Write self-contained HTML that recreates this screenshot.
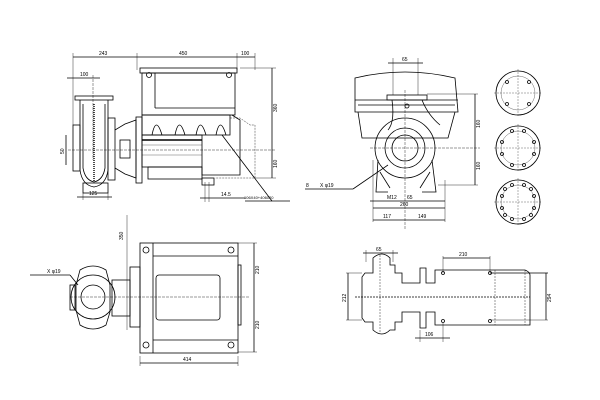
<!DOCTYPE html>
<html><head><meta charset="utf-8"><style>
html,body{margin:0;padding:0;background:#fff;width:600px;height:400px;overflow:hidden}
svg{display:block}
text{font-family:"Liberation Sans",sans-serif;font-size:5px;fill:#000}
</style></head><body>
<svg width="600" height="400" viewBox="0 0 600 400" xmlns="http://www.w3.org/2000/svg">
<g fill="none" stroke="#000" stroke-width="0.8">
<line x1="73" y1="57" x2="255" y2="57"/>
<line x1="73" y1="53" x2="73" y2="125" stroke-width="0.4"/>
<line x1="137" y1="53" x2="137" y2="70" stroke-width="0.4"/>
<line x1="237" y1="53" x2="237" y2="70" stroke-width="0.4"/>
<line x1="255" y1="53" x2="255" y2="70" stroke-width="0.4"/>
<line x1="67" y1="78" x2="100" y2="78"/>
<line x1="93" y1="75" x2="93" y2="160" stroke-width="0.4" stroke-dasharray="3,1"/>
<rect x="75" y="96" width="38" height="4"/>
<path d="M80 100 L80 170 Q82 185 94 187 Q106 185 108 170 L108 100"/>
<path d="M83 104 L83 168 Q85 180 94 182 Q103 180 105 168 L105 104"/>
<line x1="94" y1="104" x2="94" y2="182" stroke-dasharray="1,1" stroke-width="1.4"/>
<rect x="73" y="125" width="7" height="46"/>
<rect x="108" y="118" width="7" height="62"/>
<rect x="83" y="183" width="25" height="10"/>
<line x1="83" y1="193" x2="83" y2="200" stroke-width="0.4"/>
<line x1="108" y1="193" x2="108" y2="200" stroke-width="0.4"/>
<line x1="77" y1="197" x2="112" y2="197"/>
<path d="M115 130 L125 124 L136 120 L136 178 L125 174 L115 168"/>
<rect x="120" y="140" width="10" height="18"/>
<rect x="136" y="117" width="6" height="66"/>
<rect x="140" y="68" width="97" height="5"/>
<rect x="142" y="73" width="93" height="42"/>
<line x1="155" y1="73" x2="155" y2="108"/>
<line x1="155" y1="108" x2="235" y2="108"/>
<circle cx="149" cy="75" r="2.5"/><circle cx="229" cy="75" r="2.5"/>
<rect x="142" y="115" width="88" height="20"/>
<path d="M152 135 Q156 115 162 135 M175 135 Q179 115 185 135 M196 135 Q200 115 206 135 M216 135 Q220 115 226 135"/>
<rect x="142" y="135" width="60" height="32"/>
<line x1="142" y1="140" x2="202" y2="140" stroke-width="1.5"/>
<line x1="142" y1="145" x2="202" y2="145" stroke-width="0.3"/>
<line x1="142" y1="155" x2="202" y2="155" stroke-width="0.3"/>
<path d="M202 167 L202 175 L240 175 L240 120 L232 115"/>
<path d="M230 118 L240 118 L250 125 L255 125 L255 178 L215 178" stroke-dasharray="2,1" stroke-width="0.4"/>
<rect x="148" y="167" width="54" height="12"/>
<rect x="202" y="178" width="12" height="7"/>
<line x1="68" y1="150" x2="275" y2="150" stroke-dasharray="3,1" stroke-width="0.4"/>
<line x1="66" y1="135" x2="66" y2="165"/>
<line x1="272" y1="68" x2="272" y2="178"/>
<line x1="240" y1="68" x2="276" y2="68" stroke-width="0.4"/>
<line x1="255" y1="178" x2="276" y2="178" stroke-width="0.4"/>
<line x1="205" y1="182" x2="205" y2="202" stroke-width="0.4"/>
<line x1="209" y1="182" x2="209" y2="202" stroke-width="0.4"/>
<line x1="200" y1="198" x2="245" y2="198"/>
<line x1="222" y1="135" x2="272" y2="201"/>
<line x1="245" y1="201" x2="290" y2="201"/>
<path d="M355 112 L355 78 Q405 66 455 78 L458 112 Z"/>
<line x1="355" y1="100" x2="458" y2="100"/>
<line x1="358" y1="105" x2="455" y2="105"/>
<path d="M358 112 L362 138 L448 138 L455 112"/>
<rect x="387" y="95" width="40" height="5"/>
<path d="M392 100 Q395 122 388 130 M422 100 Q428 115 440 125"/>
<circle cx="407" cy="106" r="2"/>
<circle cx="405" cy="148" r="30"/>
<circle cx="405" cy="148" r="20"/>
<circle cx="405" cy="148" r="13"/>
<path d="M378 160 L376 192 L388 192 M432 160 L436 192 L422 192"/>
<line x1="380" y1="172" x2="390" y2="188"/><line x1="430" y1="172" x2="420" y2="188"/>
<line x1="405" y1="90" x2="405" y2="230" stroke-width="0.4" stroke-dasharray="3,1"/>
<line x1="370" y1="148" x2="480" y2="148" stroke-width="0.4" stroke-dasharray="3,1"/>
<line x1="393" y1="58" x2="393" y2="95" stroke-width="0.4"/>
<line x1="418" y1="58" x2="418" y2="95" stroke-width="0.4"/>
<line x1="388" y1="63" x2="423" y2="63"/>
<line x1="475" y1="94" x2="475" y2="185"/>
<line x1="427" y1="94" x2="478" y2="94" stroke-width="0.4"/>
<line x1="438" y1="185" x2="478" y2="185" stroke-width="0.4"/>
<line x1="373" y1="160" x2="373" y2="222" stroke-width="0.4"/>
<line x1="445" y1="180" x2="445" y2="222" stroke-width="0.4"/>
<line x1="370" y1="201" x2="445" y2="201"/>
<line x1="373" y1="208" x2="445" y2="208"/>
<line x1="373" y1="220" x2="445" y2="220"/>
<line x1="388" y1="165" x2="353" y2="189"/>
<line x1="305" y1="189" x2="353" y2="189"/>
<g>
<circle cx="518" cy="93" r="22"/><circle cx="518" cy="93" r="17" stroke-width="0.3"/>
<circle cx="518" cy="148" r="22"/><circle cx="518" cy="148" r="17" stroke-width="0.3"/>
<circle cx="518" cy="202" r="22"/><circle cx="518" cy="202" r="17" stroke-width="0.3"/>
<line x1="494" y1="93" x2="542" y2="93" stroke-dasharray="2,1" stroke-width="0.3"/>
<line x1="518" y1="69" x2="518" y2="117" stroke-dasharray="2,1" stroke-width="0.3"/>
<line x1="494" y1="148" x2="542" y2="148" stroke-dasharray="2,1" stroke-width="0.3"/>
<line x1="518" y1="124" x2="518" y2="172" stroke-dasharray="2,1" stroke-width="0.3"/>
<line x1="494" y1="202" x2="542" y2="202" stroke-dasharray="2,1" stroke-width="0.3"/>
<line x1="518" y1="178" x2="518" y2="226" stroke-dasharray="2,1" stroke-width="0.3"/>
<circle cx="507" cy="82" r="1.5"/><circle cx="529" cy="82" r="1.5"/><circle cx="507" cy="104" r="1.5"/><circle cx="529" cy="104" r="1.5"/>
<circle cx="512" cy="131" r="1.5"/><circle cx="524" cy="131" r="1.5"/><circle cx="512" cy="165" r="1.5"/><circle cx="524" cy="165" r="1.5"/><circle cx="502" cy="142" r="1.5"/><circle cx="502" cy="154" r="1.5"/><circle cx="534" cy="142" r="1.5"/><circle cx="534" cy="154" r="1.5"/>
<circle cx="512" cy="185" r="1.5"/><circle cx="524" cy="185" r="1.5"/><circle cx="512" cy="219" r="1.5"/><circle cx="524" cy="219" r="1.5"/><circle cx="502" cy="196" r="1.5"/><circle cx="502" cy="208" r="1.5"/><circle cx="534" cy="196" r="1.5"/><circle cx="534" cy="208" r="1.5"/><circle cx="505" cy="189" r="1.5"/><circle cx="531" cy="189" r="1.5"/><circle cx="505" cy="215" r="1.5"/><circle cx="531" cy="215" r="1.5"/>
</g>
<rect x="140" y="243" width="98" height="110"/>
<line x1="153" y1="243" x2="153" y2="353"/>
<line x1="153" y1="256" x2="238" y2="256"/>
<line x1="153" y1="340" x2="238" y2="340"/>
<rect x="156" y="275" width="64" height="45" rx="3"/>
<circle cx="146" cy="250" r="3"/><circle cx="231" cy="250" r="3"/><circle cx="146" cy="345" r="3"/><circle cx="231" cy="345" r="3"/>
<rect x="238" y="265" width="3" height="60"/>
<rect x="130" y="267" width="10" height="60"/>
<rect x="112" y="280" width="18" height="36"/>
<path d="M80 270 Q93 262 106 270 L110 285 L110 312 L106 325 Q93 333 80 325 L76 310 L76 285 Z"/>
<circle cx="93" cy="297" r="22"/>
<circle cx="93" cy="297" r="12"/>
<rect x="70" y="285" width="5" height="25"/>
<line x1="70" y1="297" x2="250" y2="297" stroke-dasharray="3,1" stroke-width="0.4"/>
<line x1="127" y1="215" x2="127" y2="330" stroke-width="0.4"/>
<line x1="254" y1="243" x2="254" y2="352"/>
<line x1="238" y1="243" x2="257" y2="243" stroke-width="0.4"/>
<line x1="238" y1="352" x2="257" y2="352" stroke-width="0.4"/>
<line x1="140" y1="356" x2="140" y2="366" stroke-width="0.4"/>
<line x1="238" y1="356" x2="238" y2="366" stroke-width="0.4"/>
<line x1="140" y1="363" x2="238" y2="363"/>
<line x1="30" y1="275" x2="70" y2="275"/>
<line x1="70" y1="275" x2="78" y2="285"/>
<path d="M373 258 Q382 250 390 258 L390 265 L395 265 L395 273 L402 273 L402 283 L420 283 L420 268 L426 268 L426 283 L435 283 L435 270 L525 270 Q530 272 530 275 L530 325 L435 325 L435 312 L426 312 L426 328 L420 328 L420 312 L402 312 L402 322 L395 322 L395 330 L390 330 Q382 338 373 330 L373 322 L365 322 L362 318 L362 277 L365 273 L373 273 Z"/>
<line x1="380" y1="255" x2="380" y2="333" stroke-dasharray="2,1" stroke-width="0.4"/>
<line x1="495" y1="270" x2="495" y2="325" stroke-dasharray="2,1" stroke-width="0.4"/>
<line x1="525" y1="270" x2="525" y2="325" stroke-dasharray="2,1" stroke-width="0.4"/>
<line x1="355" y1="297" x2="530" y2="297" stroke-dasharray="2,1" stroke-width="0.8"/>
<circle cx="443" cy="273" r="1.5"/><circle cx="490" cy="273" r="1.5"/><circle cx="443" cy="321" r="1.5"/><circle cx="490" cy="321" r="1.5"/>
<line x1="363" y1="253" x2="398" y2="253"/>
<line x1="366" y1="250" x2="366" y2="262" stroke-width="0.4"/>
<line x1="393" y1="250" x2="393" y2="262" stroke-width="0.4"/>
<line x1="443" y1="258" x2="490" y2="258"/>
<line x1="443" y1="256" x2="443" y2="273" stroke-width="0.4"/>
<line x1="490" y1="256" x2="490" y2="273" stroke-width="0.4"/>
<line x1="348" y1="273" x2="348" y2="320"/>
<line x1="346" y1="273" x2="362" y2="273" stroke-width="0.4"/>
<line x1="346" y1="320" x2="362" y2="320" stroke-width="0.4"/>
<line x1="546" y1="273" x2="546" y2="320"/>
<line x1="490" y1="273" x2="548" y2="273" stroke-width="0.7"/>
<line x1="490" y1="320" x2="548" y2="320" stroke-width="0.4"/>
<line x1="420" y1="330" x2="420" y2="342" stroke-width="0.4"/>
<line x1="443" y1="323" x2="443" y2="342" stroke-width="0.4"/>
<line x1="415" y1="338" x2="450" y2="338"/>
</g>
<text x="99" y="55">243</text>
<text x="179" y="55">450</text>
<text x="241" y="55">100</text>
<text x="80" y="76">100</text>
<text x="64" y="154" transform="rotate(-90 64 154)">50</text>
<text x="89" y="195">125</text>
<text x="277" y="112" transform="rotate(-90 277 112)">360</text>
<text x="277" y="168" transform="rotate(-90 277 168)">160</text>
<text x="221" y="196">14.5</text>
<text x="244" y="199" style="font-size:4px">106X40+406020</text>
<text x="402" y="61">65</text>
<text x="480" y="128" transform="rotate(-90 480 128)">160</text>
<text x="480" y="170" transform="rotate(-90 480 170)">160</text>
<text x="306" y="187">8</text>
<text x="320" y="187">X φ19</text>
<text x="387" y="199">M12</text>
<text x="407" y="199">65</text>
<text x="400" y="206">260</text>
<text x="383" y="218">117</text>
<text x="418" y="218">149</text>
<text x="123" y="240" transform="rotate(-90 123 240)">350</text>
<text x="47" y="273">X φ19</text>
<text x="259" y="274" transform="rotate(-90 259 274)">210</text>
<text x="259" y="329" transform="rotate(-90 259 329)">210</text>
<text x="183" y="361">414</text>
<text x="376" y="251">65</text>
<text x="459" y="256">210</text>
<text x="346" y="302" transform="rotate(-90 346 302)">212</text>
<text x="551" y="302" transform="rotate(-90 551 302)">294</text>
<text x="425" y="336">106</text>
</svg>
</body></html>
